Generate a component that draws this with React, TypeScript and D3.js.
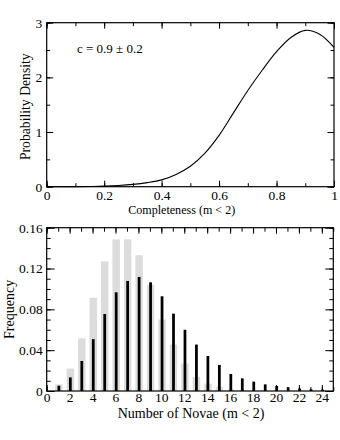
import React, { useRef, useEffect } from 'react'
import * as d3 from 'd3'

// top panel: posterior of completeness
const completeness = [0, 0.05, 0.1, 0.15, 0.2, 0.25, 0.3, 0.35, 0.4, 0.45, 0.5, 0.55, 0.6, 0.65, 0.7, 0.75, 0.8, 0.85, 0.9, 0.95, 1.0]
const density = [0, 0, 0.0005, 0.003, 0.01, 0.022, 0.042, 0.075, 0.125, 0.225, 0.375, 0.61, 0.94, 1.35, 1.76, 2.13, 2.47, 2.73, 2.86, 2.79, 2.55]

// bottom panel: distribution of nova counts
const novaeCounts = [1, 2, 3, 4, 5, 6, 7, 8, 9, 10, 11, 12, 13, 14, 15, 16, 17, 18, 19, 20, 21, 22, 23, 24]
const freqGray = [0.0065, 0.022, 0.0516, 0.0914, 0.127, 0.1486, 0.1486, 0.133, 0.104, 0.07, 0.0455, 0.0268, 0.0138, 0.0072, 0.0037, 0.0015, 0.0007, 0, 0, 0, 0, 0, 0, 0]
const freqBlack = [0.0052, 0.0133, 0.0294, 0.0508, 0.0754, 0.0967, 0.1078, 0.1117, 0.1065, 0.0928, 0.0758, 0.06, 0.0455, 0.0343, 0.0255, 0.0167, 0.0124, 0.0092, 0.0065, 0.0049, 0.0036, 0.0024, 0.0017, 0.0013]

const topXTicks = [0, 0.2, 0.4, 0.6, 0.8, 1]
const topYTicks = [0, 1, 2, 3]
const botXTicks = [0, 2, 4, 6, 8, 10, 12, 14, 16, 18, 20, 22, 24]
const botYTicks = [0, 0.04, 0.08, 0.12, 0.16]

const FONT = '"Liberation Serif", "Times New Roman", serif'

function frame(svg, x, y, o) {
  const [x0, x1] = x.range()
  const [y0, y1] = y.range()
  const g = svg.append('g')
  const strip = (s) => {
    s.select('.domain').remove()
    s.attr('font-family', FONT).attr('font-size', o.fontSize)
    s.selectAll('line').attr('stroke-width', 1)
  }
  const blank = () => ''

  // minor ticks, all four sides
  g.append('g').attr('transform', `translate(0,${y0})`)
    .call(d3.axisBottom(x).tickValues(x.ticks(o.nx)).tickSize(-o.minor).tickFormat(blank)).call(strip)
  g.append('g').attr('transform', `translate(0,${y1})`)
    .call(d3.axisTop(x).tickValues(x.ticks(o.nx)).tickSize(-o.minor).tickFormat(blank)).call(strip)
  g.append('g').attr('transform', `translate(${x0},0)`)
    .call(d3.axisLeft(y).tickValues(y.ticks(o.ny)).tickSize(-o.minor).tickFormat(blank)).call(strip)
  g.append('g').attr('transform', `translate(${x1},0)`)
    .call(d3.axisRight(y).tickValues(y.ticks(o.ny)).tickSize(-o.minor).tickFormat(blank)).call(strip)

  // major ticks with labels
  g.append('g').attr('transform', `translate(0,${y0})`)
    .call(d3.axisBottom(x).tickValues(o.xTicks).tickSize(-o.majorX).tickPadding(o.xPad).tickFormat((d) => String(d))).call(strip)
  g.append('g').attr('transform', `translate(0,${y1})`)
    .call(d3.axisTop(x).tickValues(o.xTicks).tickSize(-o.majorX).tickFormat(blank)).call(strip)
  g.append('g').attr('transform', `translate(${x0},0)`)
    .call(d3.axisLeft(y).tickValues(o.yTicks).tickSize(-o.majorY).tickPadding(o.yPad).tickFormat((d) => String(d))).call(strip)
  g.append('g').attr('transform', `translate(${x1},0)`)
    .call(d3.axisRight(y).tickValues(o.yTicks).tickSize(-o.majorY).tickFormat(blank)).call(strip)

  g.append('rect')
    .attr('x', x0).attr('y', y1)
    .attr('width', x1 - x0).attr('height', y0 - y1)
    .attr('fill', 'none').attr('stroke', '#000').attr('stroke-width', 1.2)
}

function Charts() {
  const svgRef = useRef(null)

  useEffect(() => {
    const svg = d3.select(svgRef.current)
    svg.selectAll('*').remove()

    // ---- top panel
    const xTop = d3.scaleLinear().domain([0, 1]).range([46.7, 334])
    const yTop = d3.scaleLinear().domain([0, 3]).range([186.7, 22.7])

    const pts = completeness.map((c, i) => [c, density[i]])
    svg.append('path')
      .datum(pts)
      .attr('fill', 'none')
      .attr('stroke', '#000')
      .attr('stroke-width', 1.1)
      .attr('d', d3.line().x((d) => xTop(d[0])).y((d) => yTop(d[1])).curve(d3.curveCatmullRom.alpha(0.5)))

    frame(svg, xTop, yTop, {
      nx: 10, ny: 6, minor: 3.5, majorX: 6, majorY: 6.5,
      xTicks: topXTicks, yTicks: topYTicks, xPad: 3.5, yPad: 4.5, fontSize: 13.5,
    })

    svg.append('text')
      .attr('x', 77).attr('y', 53)
      .attr('font-family', FONT).attr('font-size', 13)
      .text('c = 0.9 ± 0.2')

    svg.append('text')
      .attr('x', 181.7).attr('y', 214)
      .attr('text-anchor', 'middle')
      .attr('font-family', FONT).attr('font-size', 13.5)
      .attr('textLength', 107).attr('lengthAdjust', 'spacingAndGlyphs')
      .text('Completeness (m < 2)')

    svg.append('text')
      .attr('transform', 'translate(30,106.7) rotate(-90)')
      .attr('text-anchor', 'middle')
      .attr('font-family', FONT).attr('font-size', 13.7)
      .text('Probability Density')

    // ---- bottom panel
    const xBot = d3.scaleLinear().domain([0, 25]).range([46.7, 333.3])
    const yBot = d3.scaleLinear().domain([0, 0.16]).range([391, 227.7])

    const grayW = xBot(0.65) - xBot(0)
    const blackW = xBot(0.24) - xBot(0)

    svg.append('g')
      .selectAll('rect')
      .data(novaeCounts)
      .join('rect')
      .attr('x', (n) => xBot(n) + 0.7 - grayW / 2)
      .attr('width', grayW)
      .attr('y', (n, i) => yBot(freqGray[i]))
      .attr('height', (n, i) => yBot(0) - yBot(freqGray[i]))
      .attr('fill', '#dcdcdc')

    svg.append('g')
      .selectAll('rect')
      .data(novaeCounts)
      .join('rect')
      .attr('x', (n) => xBot(n) + 0.7 - blackW / 2)
      .attr('width', blackW)
      .attr('y', (n, i) => yBot(freqBlack[i]))
      .attr('height', (n, i) => yBot(0) - yBot(freqBlack[i]))
      .attr('fill', '#000')

    frame(svg, xBot, yBot, {
      nx: 25, ny: 16, minor: 4, majorX: 6, majorY: 8,
      xTicks: botXTicks, yTicks: botYTicks, xPad: 1.5, yPad: 4, fontSize: 13.5,
    })

    svg.append('text')
      .attr('x', 191).attr('y', 418)
      .attr('text-anchor', 'middle')
      .attr('font-family', FONT).attr('font-size', 14)
      .text('Number of Novae (m < 2)')

    svg.append('text')
      .attr('transform', 'translate(13.5,309.4) rotate(-90)')
      .attr('text-anchor', 'middle')
      .attr('font-family', FONT).attr('font-size', 14)
      .text('Frequency')
  }, [])

  return (
    <svg
      ref={svgRef}
      width={340}
      height={440}
      style={{ position: 'absolute', left: 0, top: 0, background: '#fff' }}
    />
  )
}

export default function App() {
  return <Charts />
}
